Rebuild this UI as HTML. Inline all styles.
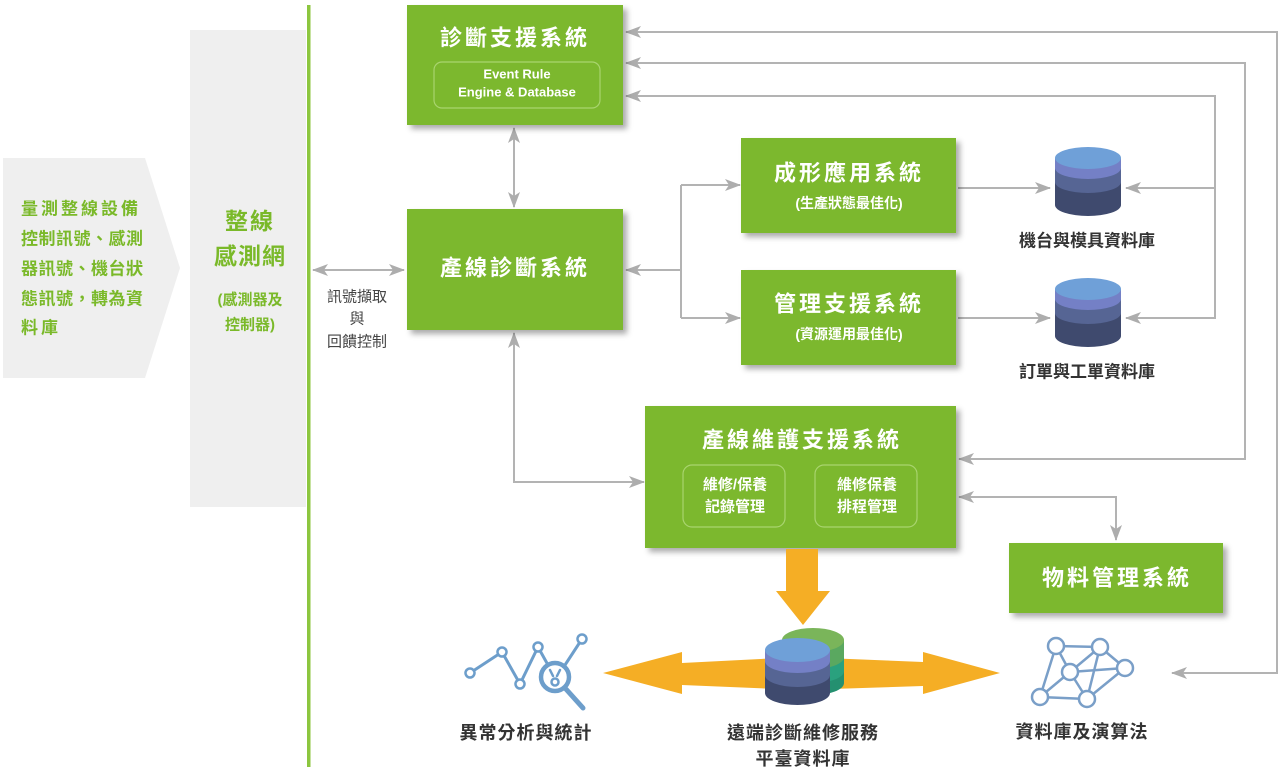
<!DOCTYPE html>
<html><head><meta charset="utf-8"><style>
html,body{margin:0;padding:0;background:#fff;}
svg{display:block;}
text{font-family:"Liberation Sans","Noto Sans CJK TC",sans-serif;}
</style></head><body>
<svg width="1280" height="773" viewBox="0 0 1280 773" xmlns="http://www.w3.org/2000/svg">
<defs>
<filter id="sh" x="-10%" y="-10%" width="130%" height="135%"><feDropShadow dx="4" dy="4" stdDeviation="3" flood-color="#000" flood-opacity="0.33"/></filter>
<marker id="ah" viewBox="0 0 16 12" refX="15" refY="6" markerWidth="16" markerHeight="12" markerUnits="userSpaceOnUse" orient="auto-start-reverse"><path d="M0,0 L16,6 L0,12 L4,6 Z" fill="#adadad"/></marker>
</defs>

<!-- left shapes -->
<polygon points="3,158 145,158 180,268 145,378 3,378" fill="#efefef"/>
<rect x="190" y="30" width="116" height="477" fill="#efefef"/>
<rect x="307" y="5" width="3.5" height="762" fill="#8cc63f"/>

<g fill="#7ab929" font-weight="bold" font-size="17" letter-spacing="3">
<text x="21" y="209" dominant-baseline="central">量測整線設備</text>
<text x="21" y="239" dominant-baseline="central" letter-spacing="0.5">控制訊號、感測</text>
<text x="21" y="269" dominant-baseline="central" letter-spacing="0.5">器訊號、機台狀</text>
<text x="21" y="299" dominant-baseline="central" letter-spacing="0.5">態訊號，轉為資</text>
<text x="21" y="328" dominant-baseline="central">料庫</text>
</g>
<g fill="#7ab929" font-weight="bold" text-anchor="middle">
<text x="250" y="221" font-size="23" dominant-baseline="central" letter-spacing="2">整線</text>
<text x="250" y="256" font-size="23" dominant-baseline="central" letter-spacing="1">感測網</text>
<text x="250" y="300" font-size="15" dominant-baseline="central">(感測器及</text>
<text x="250" y="325" font-size="15" dominant-baseline="central">控制器)</text>
</g>
<g fill="#444" font-size="15" text-anchor="middle">
<text x="357" y="297" dominant-baseline="central">訊號擷取</text>
<text x="357" y="319" dominant-baseline="central">與</text>
<text x="357" y="342" dominant-baseline="central">回饋控制</text>
</g>

<!-- connectors -->
<g fill="none" stroke="#b3b3b3" stroke-width="2">
<path d="M313,270 H404" marker-start="url(#ah)" marker-end="url(#ah)"/>
<path d="M626,32 H1277 V673 H1172" marker-start="url(#ah)" marker-end="url(#ah)"/>
<path d="M626,63 H1245 V459 H959" marker-start="url(#ah)" marker-end="url(#ah)"/>
<path d="M626,96 H1215 V318 H1126" marker-start="url(#ah)" marker-end="url(#ah)"/>
<path d="M1215,188 H1126" marker-end="url(#ah)"/>
<path d="M958,188 H1050" marker-end="url(#ah)"/>
<path d="M958,318 H1050" marker-end="url(#ah)"/>
<path d="M626,270 H681" marker-start="url(#ah)"/>
<path d="M681,185 V318"/>
<path d="M681,185 H740" marker-end="url(#ah)"/>
<path d="M681,318 H740" marker-end="url(#ah)"/>
<path d="M514,128 V207" marker-start="url(#ah)" marker-end="url(#ah)"/>
<path d="M514,333 V482 H644" marker-start="url(#ah)" marker-end="url(#ah)"/>
<path d="M959,497 H1116 V540" marker-start="url(#ah)" marker-end="url(#ah)"/>
</g>

<!-- green boxes -->
<g fill="#7cb82f" filter="url(#sh)">
<rect x="407" y="5" width="216" height="120"/>
<rect x="407" y="209" width="216" height="121"/>
<rect x="741" y="138" width="215" height="95"/>
<rect x="741" y="270" width="215" height="95"/>
<rect x="645" y="406" width="311" height="142"/>
<rect x="1009" y="543" width="214" height="70"/>
</g>
<g fill="none" stroke="#a9d46f" stroke-width="1.2">
<rect x="434" y="62" width="166" height="46" rx="8"/>
<rect x="683" y="465" width="102" height="62" rx="9"/>
<rect x="815" y="465" width="102" height="62" rx="9"/>
</g>
<g fill="#fff" font-weight="bold" text-anchor="middle">
<text x="515" y="38" font-size="22" letter-spacing="3" dominant-baseline="central">診斷支援系統</text>
<text x="517" y="74" font-size="13" dominant-baseline="central">Event Rule</text>
<text x="517" y="92" font-size="13" dominant-baseline="central">Engine &amp; Database</text>
<text x="515" y="268" font-size="22" letter-spacing="3" dominant-baseline="central">產線診斷系統</text>
<text x="849" y="173" font-size="22" letter-spacing="3" dominant-baseline="central">成形應用系統</text>
<text x="849" y="203" font-size="14" dominant-baseline="central">(生產狀態最佳化)</text>
<text x="849" y="304" font-size="22" letter-spacing="3" dominant-baseline="central">管理支援系統</text>
<text x="849" y="334" font-size="14" dominant-baseline="central">(資源運用最佳化)</text>
<text x="802" y="440" font-size="22" letter-spacing="3" dominant-baseline="central">產線維護支援系統</text>
<text x="735" y="485" font-size="15" dominant-baseline="central">維修/保養</text>
<text x="735" y="507" font-size="15" dominant-baseline="central">記錄管理</text>
<text x="867" y="485" font-size="15" dominant-baseline="central">維修保養</text>
<text x="867" y="507" font-size="15" dominant-baseline="central">排程管理</text>
<text x="1117" y="578" font-size="22" letter-spacing="3" dominant-baseline="central">物料管理系統</text>
</g>

<!-- small databases -->
<g id="db1">
<path d="M1055,158 V205 A33,11 0 0 0 1121,205 V158 Z" fill="#3f4a6e"/>
<path d="M1055,158 V182 A33,11 0 0 0 1121,182 V158 Z" fill="#566594"/>
<path d="M1055,158 V168 A33,11 0 0 0 1121,168 V158 Z" fill="#7480c6"/>
<ellipse cx="1088" cy="158" rx="33" ry="11" fill="#6fa0d8"/>
</g>
<g transform="translate(0,131)">
<path d="M1055,158 V205 A33,11 0 0 0 1121,205 V158 Z" fill="#3f4a6e"/>
<path d="M1055,158 V182 A33,11 0 0 0 1121,182 V158 Z" fill="#566594"/>
<path d="M1055,158 V168 A33,11 0 0 0 1121,168 V158 Z" fill="#7480c6"/>
<ellipse cx="1088" cy="158" rx="33" ry="11" fill="#6fa0d8"/>
</g>
<g fill="#333" font-size="17" font-weight="bold" text-anchor="middle">
<text x="1087" y="241" dominant-baseline="central">機台與模具資料庫</text>
<text x="1087" y="372" dominant-baseline="central">訂單與工單資料庫</text>
</g>

<!-- orange arrows -->
<polygon points="786,549 818,549 818,591 830,591 803,625 776,591 786,591" fill="#f5ae25"/>
<polygon points="603,673 682,652 682,663 800,657 923,662 923,652 1000,673 923,694 923,686 800,690 682,685 682,694" fill="#f5ae25"/>

<!-- central database -->
<path d="M782,640 V683 A31,12 0 0 0 844,683 V640 Z" fill="#249070"/>
<path d="M782,640 V671 A31,12 0 0 0 844,671 V640 Z" fill="#2aa17e"/>
<path d="M782,640 V657 A31,12 0 0 0 844,657 V640 Z" fill="#5aa860"/>
<ellipse cx="813" cy="640" rx="31" ry="12" fill="#7ab55a"/>
<path d="M765,650 V693 A32.5,12 0 0 0 830,693 V650 Z" fill="#3f4a6e"/>
<path d="M765,650 V675 A32.5,12 0 0 0 830,675 V650 Z" fill="#566594"/>
<path d="M765,650 V661 A32.5,12 0 0 0 830,661 V650 Z" fill="#7480c6"/>
<ellipse cx="797.5" cy="650" rx="32.5" ry="12" fill="#6fa0d8"/>

<!-- analytics icon -->
<g stroke="#6d9ecb" fill="none" stroke-width="3" stroke-linecap="round">
<polyline points="470,673 502,652 520,684 538,647 548,665"/>
<line x1="565" y1="665" x2="582" y2="639"/>
<circle cx="555" cy="677" r="14" stroke-width="4.5"/>
<line x1="565" y1="688" x2="583" y2="708" stroke-width="5"/>
<circle cx="555" cy="682" r="3.5" stroke-width="2.5"/>
<line x1="550" y1="670" x2="553" y2="676" stroke-width="2.5"/>
<line x1="560" y1="670" x2="557" y2="676" stroke-width="2.5"/>
</g>
<g stroke="#6d9ecb" fill="#fff" stroke-width="2.5">
<circle cx="470" cy="673" r="4.5"/>
<circle cx="502" cy="652" r="4.5"/>
<circle cx="520" cy="684" r="4.5"/>
<circle cx="538" cy="647" r="4.5"/>
<circle cx="582" cy="639" r="4.5"/>
</g>

<!-- network icon -->
<g stroke="#7a9fc8" stroke-width="2.5" fill="none">
<path d="M1056,646 L1100,647 M1056,646 L1040,697 M1056,646 L1070,672 M1100,647 L1070,672 M1100,647 L1125,668 M1100,647 L1087,699 M1070,672 L1125,668 M1070,672 L1040,697 M1070,672 L1087,699 M1040,697 L1087,699 M1087,699 L1125,668"/>
</g>
<g stroke="#7a9fc8" stroke-width="2.5" fill="#fff">
<circle cx="1056" cy="646" r="8"/>
<circle cx="1100" cy="647" r="8"/>
<circle cx="1070" cy="672" r="8"/>
<circle cx="1125" cy="668" r="8"/>
<circle cx="1040" cy="697" r="8"/>
<circle cx="1087" cy="699" r="8"/>
</g>

<!-- bottom labels -->
<g fill="#333" font-size="18" font-weight="bold" text-anchor="middle">
<text x="526" y="733" dominant-baseline="central" letter-spacing="1">異常分析與統計</text>
<text x="803" y="733" dominant-baseline="central" letter-spacing="1">遠端診斷維修服務</text>
<text x="803" y="759" dominant-baseline="central" letter-spacing="1">平臺資料庫</text>
<text x="1082" y="732" dominant-baseline="central" letter-spacing="1">資料庫及演算法</text>
</g>
</svg>
</body></html>
